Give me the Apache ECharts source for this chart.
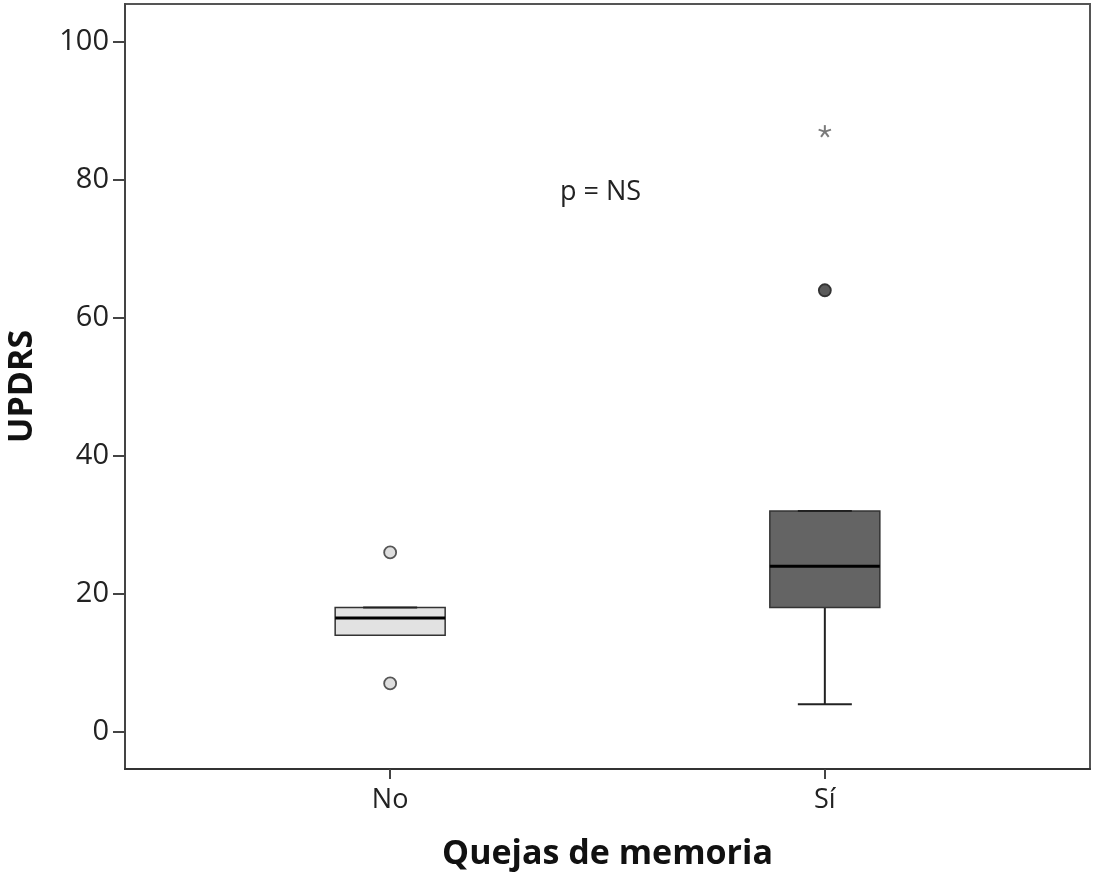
<!DOCTYPE html>
<html><head><meta charset="utf-8">
<script src="https://cdn.jsdelivr.net/npm/echarts@6/dist/echarts.min.js"></script>
<style>html,body{margin:0;padding:0;background:#fff}#c{width:1094px;height:873px}</style>
</head><body><div id="c"></div>
<script>
const categories = ['No', 'Sí'];
const whiskerLow = [14, 4];
const q1 = [14, 18];
const medians = [16.5, 24];
const q3 = [18, 32];
const whiskerHigh = [18, 32];
const outliersNo = [26, 7];
const outliersSi = [64];
const extremesSi = [87];
const yTicks = [0, 20, 40, 60, 80, 100];
const annotation = 'p = NS';

const FONT = 'Open Sans';
const boxFill = ['#e2e2e2', '#646464'];
const outFill = ['#dedede', '#5a5a5a'];

const chart = echarts.init(document.getElementById('c'), null, {renderer: 'canvas'});
const boxData = categories.map((c, i) => [i + 1, whiskerLow[i], q1[i], medians[i], q3[i], whiskerHigh[i]]);
const outData = [];
outliersNo.forEach(v => outData.push({value: [1, v], itemStyle: {color: outFill[0], borderColor: '#555'}}));
outliersSi.forEach(v => outData.push({value: [2, v], itemStyle: {color: outFill[1], borderColor: '#333'}}));
const extData = extremesSi.map(v => [2, v]);

chart.setOption({
  animation: false,
  grid: {left: 125, right: 4, top: 4, bottom: 104, show: true, borderColor: '#555', borderWidth: 2,
    containLabel: false, outerBoundsMode: 'none'},
  xAxis: {
    type: 'value', min: 0.39, max: 2.61,
    name: 'Quejas de memoria', nameLocation: 'middle', nameGap: 68,
    nameTextStyle: {fontFamily: FONT, fontWeight: 'bold', fontSize: 34, color: '#111'},
    axisLine: {show: true, onZero: false, lineStyle: {color: '#333', width: 2}},
    axisTick: {show: true, inside: false, length: 10, customValues: [1, 2], lineStyle: {color: '#444', width: 2}},
    axisLabel: {customValues: [1, 2], formatter: v => categories[Math.round(v) - 1] || '',
      fontFamily: FONT, fontSize: 27, color: '#222', margin: 18},
    splitLine: {show: false}
  },
  yAxis: {
    type: 'value', min: -5.4, max: 105.5,
    name: 'UPDRS', nameLocation: 'middle', nameGap: 86,
    nameTextStyle: {fontFamily: FONT, fontWeight: 'bold', fontSize: 34, color: '#111'},
    axisLine: {show: true, onZero: false, lineStyle: {color: '#444', width: 2}},
    axisTick: {show: true, inside: false, length: 12, customValues: yTicks, lineStyle: {color: '#444', width: 2}},
    axisLabel: {customValues: yTicks, fontFamily: FONT, fontSize: 29, color: '#222', margin: 16},
    splitLine: {show: false}
  },
  graphic: [{
    type: 'text', left: 560, top: 179,
    style: {text: annotation, fontFamily: FONT, fontSize: 27, fill: '#222'}
  }],
  series: [
    {
      type: 'custom',
      data: boxData,
      renderItem: function (params, api) {
        const x = api.value(0), i = params.dataIndex;
        const half = 55, capHalf = 27;
        const pLow = api.coord([x, api.value(1)]);
        const pQ1 = api.coord([x, api.value(2)]);
        const pMed = api.coord([x, api.value(3)]);
        const pQ3 = api.coord([x, api.value(4)]);
        const pHigh = api.coord([x, api.value(5)]);
        const cx = pQ1[0];
        const children = [];
        if (pLow[1] - pQ1[1] > 0.5) {
          children.push({type: 'line', shape: {x1: cx, y1: pQ1[1], x2: cx, y2: pLow[1]}, style: {stroke: '#222', lineWidth: 2}});
          children.push({type: 'line', shape: {x1: cx - capHalf, y1: pLow[1], x2: cx + capHalf, y2: pLow[1]}, style: {stroke: '#222', lineWidth: 2}});
        }
        if (pQ3[1] - pHigh[1] > 0.5) {
          children.push({type: 'line', shape: {x1: cx, y1: pQ3[1], x2: cx, y2: pHigh[1]}, style: {stroke: '#222', lineWidth: 2}});
        }
        children.push({type: 'rect', shape: {x: cx - half, y: pQ3[1], width: 2 * half, height: pQ1[1] - pQ3[1]},
          style: {fill: boxFill[i], stroke: '#333', lineWidth: 1.5}});
        children.push({type: 'line', shape: {x1: cx - half, y1: pMed[1], x2: cx + half, y2: pMed[1]}, style: {stroke: '#000', lineWidth: 3}});
        children.push({type: 'line', shape: {x1: cx - capHalf, y1: pHigh[1], x2: cx + capHalf, y2: pHigh[1]}, style: {stroke: '#222', lineWidth: 2}});
        return {type: 'group', children: children};
      },
      z: 2
    },
    {
      type: 'scatter', data: outData, symbol: 'circle', symbolSize: 12,
      itemStyle: {borderWidth: 1.8, opacity: 1}, z: 3
    },
    {
      type: 'custom', data: extData, z: 3,
      renderItem: function (params, api) {
        const p = api.coord([api.value(0), api.value(1)]);
        const r = 6.5, ch = [];
        for (let k = 0; k < 5; k++) {
          const a = -Math.PI / 2 + k * 2 * Math.PI / 5;
          ch.push({type: 'line', shape: {x1: p[0], y1: p[1], x2: p[0] + r * Math.cos(a), y2: p[1] + r * Math.sin(a)},
            style: {stroke: '#7a7a7a', lineWidth: 2}});
        }
        return {type: 'group', children: ch};
      }
    }
  ]
});
</script></body></html>
